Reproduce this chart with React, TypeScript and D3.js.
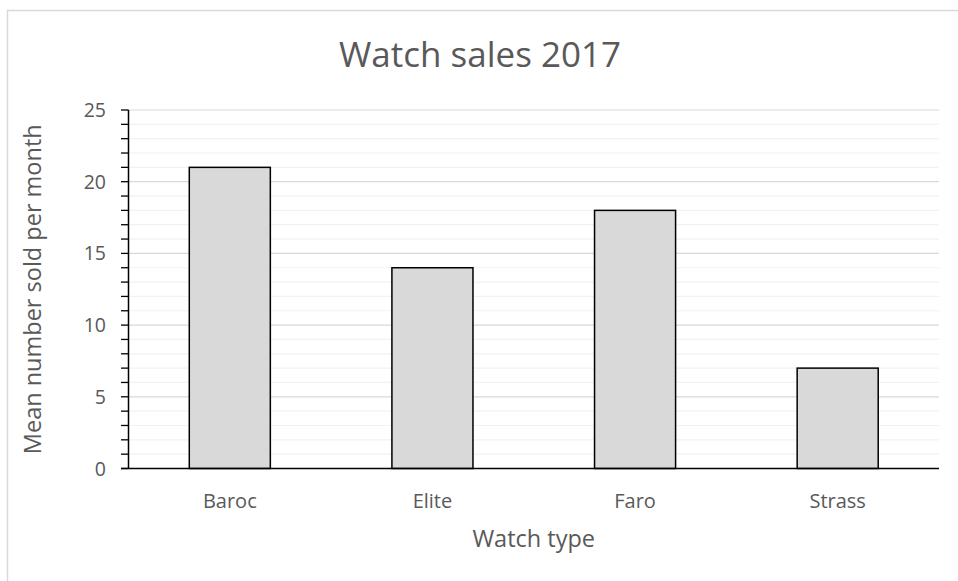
import React from "react";
import * as d3 from "d3";

const categories = ["Baroc", "Elite", "Faro", "Strass"];
const values = [21, 14, 18, 7];
const yTicks = [0, 5, 10, 15, 20, 25];
const title = "Watch sales 2017";
const xTitle = "Watch type";
const yTitle = "Mean number sold per month";

export default function App() {
  const W = 958, H = 581;
  const left = 128.5, right = 939, top = 110, bottom = 468.5;
  const x = d3.scaleBand<string>().domain(categories).range([left, right]).paddingInner(0.6).paddingOuter(0.3);
  const y = d3.scaleLinear().domain([0, 25]).range([bottom, top]);
  const minor = d3.range(0, 26, 1);
  const font = "'Open Sans', sans-serif";
  const grey = "#595959";
  return (
    <svg width={W} height={H} style={{ position: "absolute", left: 0, top: 0 }}>
      <rect x={0} y={0} width={W} height={H} fill="#fff" />
      <path d={`M7.5,${H} V10.5 H${W}`} fill="none" stroke="#d9d9d9" strokeWidth={1.5} />
      {minor.filter(v => v % 5 !== 0).map(v => (
        <line key={"m" + v} x1={left} x2={right} y1={y(v)} y2={y(v)} stroke="#f2f2f2" strokeWidth={1.2} />
      ))}
      {yTicks.filter(v => v !== 0).map(v => (
        <line key={"g" + v} x1={left} x2={right} y1={y(v)} y2={y(v)} stroke="#d9d9d9" strokeWidth={1.2} />
      ))}
      {categories.map((c, i) => (
        <rect key={c} x={x(c)} y={y(values[i])} width={x.bandwidth()} height={y(0) - y(values[i])}
          fill="#d9d9d9" stroke="#000" strokeWidth={1.5} />
      ))}
      {minor.map(v => (
        <line key={"t" + v} x1={121} x2={left} y1={y(v)} y2={y(v)} stroke="#000" strokeWidth={1.3} />
      ))}
      <line x1={left} x2={left} y1={top} y2={bottom} stroke="#000" strokeWidth={1.5} />
      <line x1={121} x2={right} y1={bottom} y2={bottom} stroke="#000" strokeWidth={1.5} />
      {yTicks.map(v => (
        <text key={"l" + v} x={106} y={y(v)} dy="0.36em" textAnchor="end" fontFamily={font} fontSize={19.5} fill={grey}>{v}</text>
      ))}
      {categories.map(c => (
        <text key={"c" + c} x={(x(c) as number) + x.bandwidth() / 2} y={508} textAnchor="middle" fontFamily={font} fontSize={20} fill={grey}>{c}</text>
      ))}
      <text x={(left + right) / 2} y={547} textAnchor="middle" fontFamily={font} fontSize={23.5} fill={grey}>{xTitle}</text>
      <text transform={`translate(41,${(top + bottom) / 2}) rotate(-90)`} textAnchor="middle" fontFamily={font} fontSize={23.5} fill={grey}>{yTitle}</text>
      <text x={480} y={67} textAnchor="middle" fontFamily={font} fontSize={35} fill={grey}>{title}</text>
    </svg>
  );
}
